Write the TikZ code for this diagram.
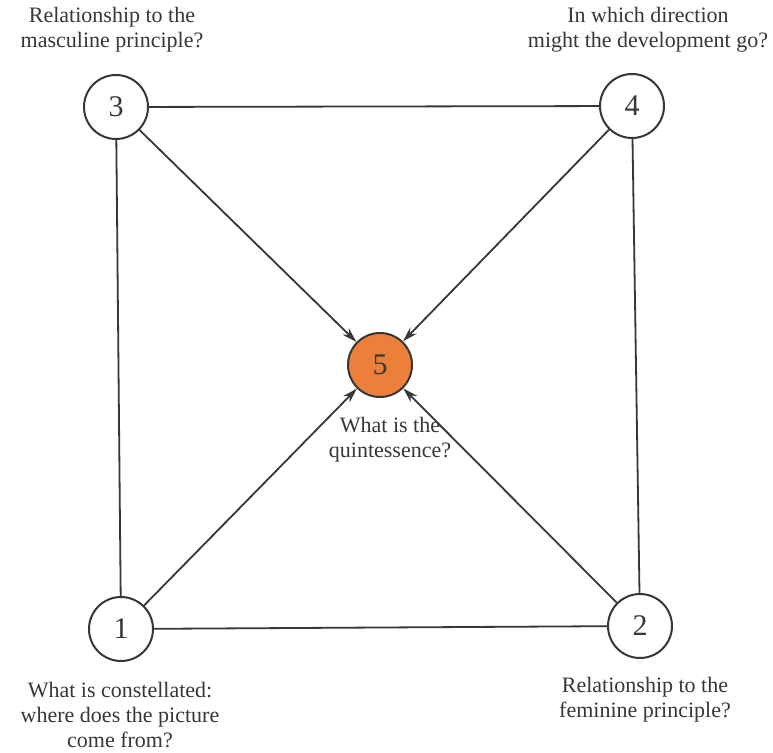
\documentclass[tikz,border=0pt]{standalone}
\usepackage{fontspec}
\setmainfont{Liberation Serif}
\usetikzlibrary{arrows.meta}
\definecolor{ink}{RGB}{55,55,55}
\definecolor{orng}{RGB}{236,128,58}
\begin{document}
\begin{tikzpicture}[x=1pt,y=-1pt,
  num/.style={circle,draw=ink,line width=2pt,minimum size=64pt,inner sep=0pt,font=\fontsize{30}{32}\selectfont,text=ink,fill=white},
  lab/.style={align=center,font=\fontsize{22}{25}\selectfont,text=ink,inner sep=0pt},
  edge/.style={draw=ink,line width=1.8pt},
  arr/.style={edge,-{Stealth[length=15pt,width=9pt]}}]
\useasboundingbox (0,0) rectangle (773,752);
\fill[white] (0,0) rectangle (773,752);
\node[num] (n3) at (116,107) {3};
\node[num] (n4) at (632,106) {4};
\node[num] (n1) at (121,629) {1};
\node[num] (n2) at (640,626) {2};
\node[num,fill=orng] (n5) at (380,365) {5};
\draw[edge] (n3) -- (n4);
\draw[edge] (n3) -- (n1);
\draw[edge] (n4) -- (n2);
\draw[edge] (n1) -- (n2);
\draw[arr] (n3) -- (n5);
\draw[arr] (n4) -- (n5);
\draw[arr] (n1) -- (n5);
\draw[arr] (n2) -- (n5);
\node[lab] (t3) at (112,30) {Relationship to the\\masculine principle?};
\node[lab] (t4) at (648,30) {In which direction\\might the development go?};
\node[lab] (t1) at (120,715) {What is constellated:\\where does the picture\\come from?};
\node[lab] (t2) at (645,700) {Relationship to the\\feminine principle?};
\node[lab] (t5) at (390,440) {What is the\\quintessence?};
\end{tikzpicture}
\end{document}
